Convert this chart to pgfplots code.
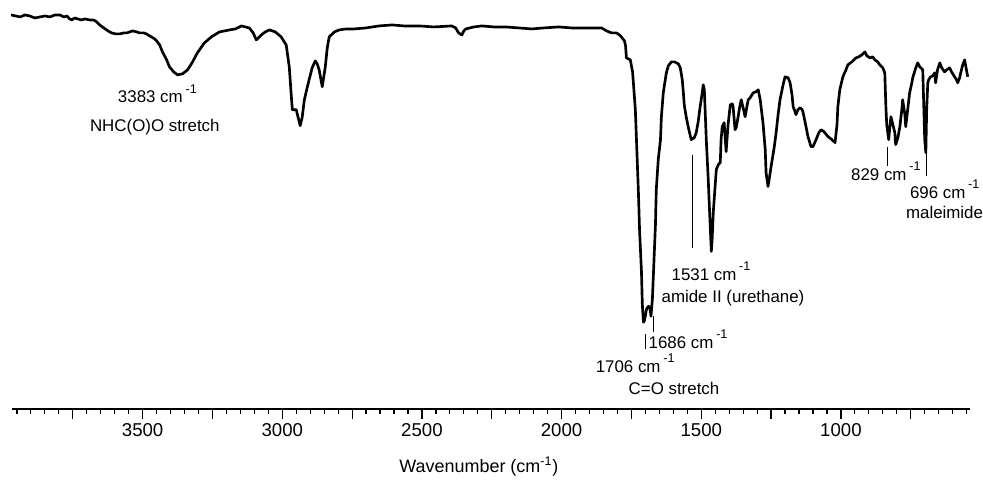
\documentclass[border=0pt]{standalone}
\usepackage{pgfplots}
\pgfplotsset{compat=1.18}
\usepackage{pgfplotstable}
\usepackage{fontspec}
\setmainfont{Liberation Sans}
\pgfplotstableread{
wn y
3971 395
3954 394
3939 393
3921 395
3904 394
3886 392
3868 393
3850 394
3832 393
3814 395
3796 395
3782 393
3771 394
3761 391
3754 390
3743 392
3732 391
3718 390
3707 391
3689 390
3675 390
3664 388
3654 385
3639 382
3629 380
3618 378
3611 377
3596 376
3582 376
3568 377
3557 377
3546 378
3536 379
3521 378
3511 377
3496 377
3486 376
3475 374
3468 373
3457 371
3450 369
3439 365
3429 358
3414 350
3404 343
3389 338
3375 335
3357 336
3339 340
3321 348
3304 357
3279 367
3254 373
3225 378
3189 380
3168 381
3146 384
3132 383
3118 382
3104 377
3093 370
3075 375
3061 378
3046 380
3025 378
3004 373
2986 365
2975 343
2968 315
2964 300
2950 300
2943 292
2936 284
2929 292
2921 310
2911 322
2904 330
2893 342
2882 349
2875 346
2868 340
2857 323
2846 343
2839 362
2832 373
2814 378
2796 380
2771 381
2743 381
2700 382
2654 384
2607 385
2564 384
2511 384
2457 383
2393 384
2379 382
2371 378
2364 376
2357 375
2350 379
2343 381
2314 383
2286 384
2243 383
2200 383
2154 382
2107 381
2064 382
2011 383
1964 382
1914 382
1875 382
1857 382
1839 379
1821 377
1804 377
1793 375
1786 373
1775 369
1771 364
1768 352
1761 351
1754 350
1746 338
1743 327
1736 300
1732 270
1725 217
1721 180
1714 137
1711 105
1707 87
1704 88
1696 100
1689 103
1684 102
1680 93
1675 110
1671 137
1664 185
1661 220
1654 250
1646 270
1643 292
1636 317
1625 337
1618 344
1607 348
1596 348
1589 347
1582 346
1575 342
1568 330
1564 317
1561 305
1554 293
1546 282
1536 270
1525 272
1518 277
1511 288
1504 303
1496 318
1493 325
1489 320
1482 270
1475 230
1471 203
1464 158
1461 170
1457 197
1450 225
1446 240
1439 245
1432 247
1429 270
1425 283
1418 287
1411 258
1404 285
1396 305
1389 306
1386 303
1379 280
1375 282
1368 293
1361 305
1357 310
1350 302
1343 293
1336 304
1332 310
1325 312
1314 317
1304 318
1296 320
1289 310
1279 287
1271 260
1268 237
1261 223
1257 230
1250 243
1239 262
1232 277
1225 295
1218 310
1207 325
1200 333
1189 332
1182 327
1175 315
1171 303
1164 298
1161 295
1154 300
1146 302
1139 300
1136 298
1125 283
1118 273
1107 263
1100 263
1089 270
1079 277
1071 280
1061 278
1046 273
1032 270
1021 267
1014 285
1011 303
1004 320
993 333
982 340
975 345
961 348
946 352
936 353
925 355
914 358
907 354
896 352
886 353
879 350
868 348
861 345
850 342
843 337
839 303
836 285
829 270
825 282
821 293
814 285
807 277
804 265
796 272
789 283
782 300
779 310
771 295
768 283
761 300
754 317
746 327
743 332
732 342
725 347
718 343
707 340
704 310
700 270
696 257
693 300
689 327
686 330
679 333
671 334
664 337
661 327
654 340
646 347
639 342
629 338
621 340
611 342
604 338
593 333
586 330
582 327
575 332
571 337
564 345
557 350
554 345
546 333
}\spectrum
\newcommand\cmi{cm\,\raisebox{7.3pt}{\fontsize{9.5}{10}\selectfont -1}}
\begin{document}
\begin{tikzpicture}
\begin{scope}[x=0.75pt,y=-0.75pt]
\path[use as bounding box] (0,0) rectangle (983,480);
\end{scope}
\begin{axis}[
  at={(9pt,-307.5pt)}, anchor=south west,
  scale only axis, width=720pt, height=303.75pt,
  xmin=539.3, xmax=3967.8, ymin=0, ymax=405,
  x dir=reverse,
  clip=false,
  axis x line*=bottom,
  hide y axis,
  x axis line style={-, line width=1.2pt},
  xtick={750,1000,1250,1500,1750,2000,2250,2500,2750,3000,3250,3500,3750},
  xticklabels={,1000,,1500,,2000,,2500,,3000,,3500,},
  minor xtick={550,600,...,3950},
  tick align=outside,
  major tick length=7.5pt,
  minor tick length=3.6pt,
  every tick/.style={black, line width=0.9pt},
  /pgf/number format/assume math mode=true,
  xticklabel style={font=\fontsize{14}{16}\selectfont},
  xlabel={Wavenumber (cm\textsuperscript{-1})},
  xlabel style={font=\fontsize{13.5}{16}\selectfont, at={(axis description cs:0.4875,0)}, anchor=center, yshift=-43.5pt},
]
\addplot[black, line width=2pt, line join=round] table[x=wn, y=y] {\spectrum};
\end{axis}
\begin{scope}[x=0.75pt,y=-0.75pt, every node/.style={inner sep=0pt, anchor=base west, font=\fontsize{12.7}{15}\selectfont}]
\draw[line width=0.6pt] (694,155) -- (694,249);
\draw[line width=0.6pt] (655,317) -- (655,333);
\draw[line width=0.6pt] (647,335) -- (647,350);
\draw[line width=0.6pt] (890,147) -- (890,166);
\draw[line width=0.6pt] (929,153) -- (929,176);
\node at (118,103) {3383 \cmi};
\node at (90,132) {NHC(O)O stretch};
\node at (673,281) {1531 \cmi};
\node at (663,303) {amide II (urethane)};
\node at (650,349) {1686 \cmi};
\node at (597,373) {1706 \cmi};
\node at (630,395) {C=O stretch};
\node at (853,181) {829 \cmi};
\node at (912,199) {696 \cmi};
\node at (908,219) {maleimide};
\end{scope}
\end{tikzpicture}
\end{document}
